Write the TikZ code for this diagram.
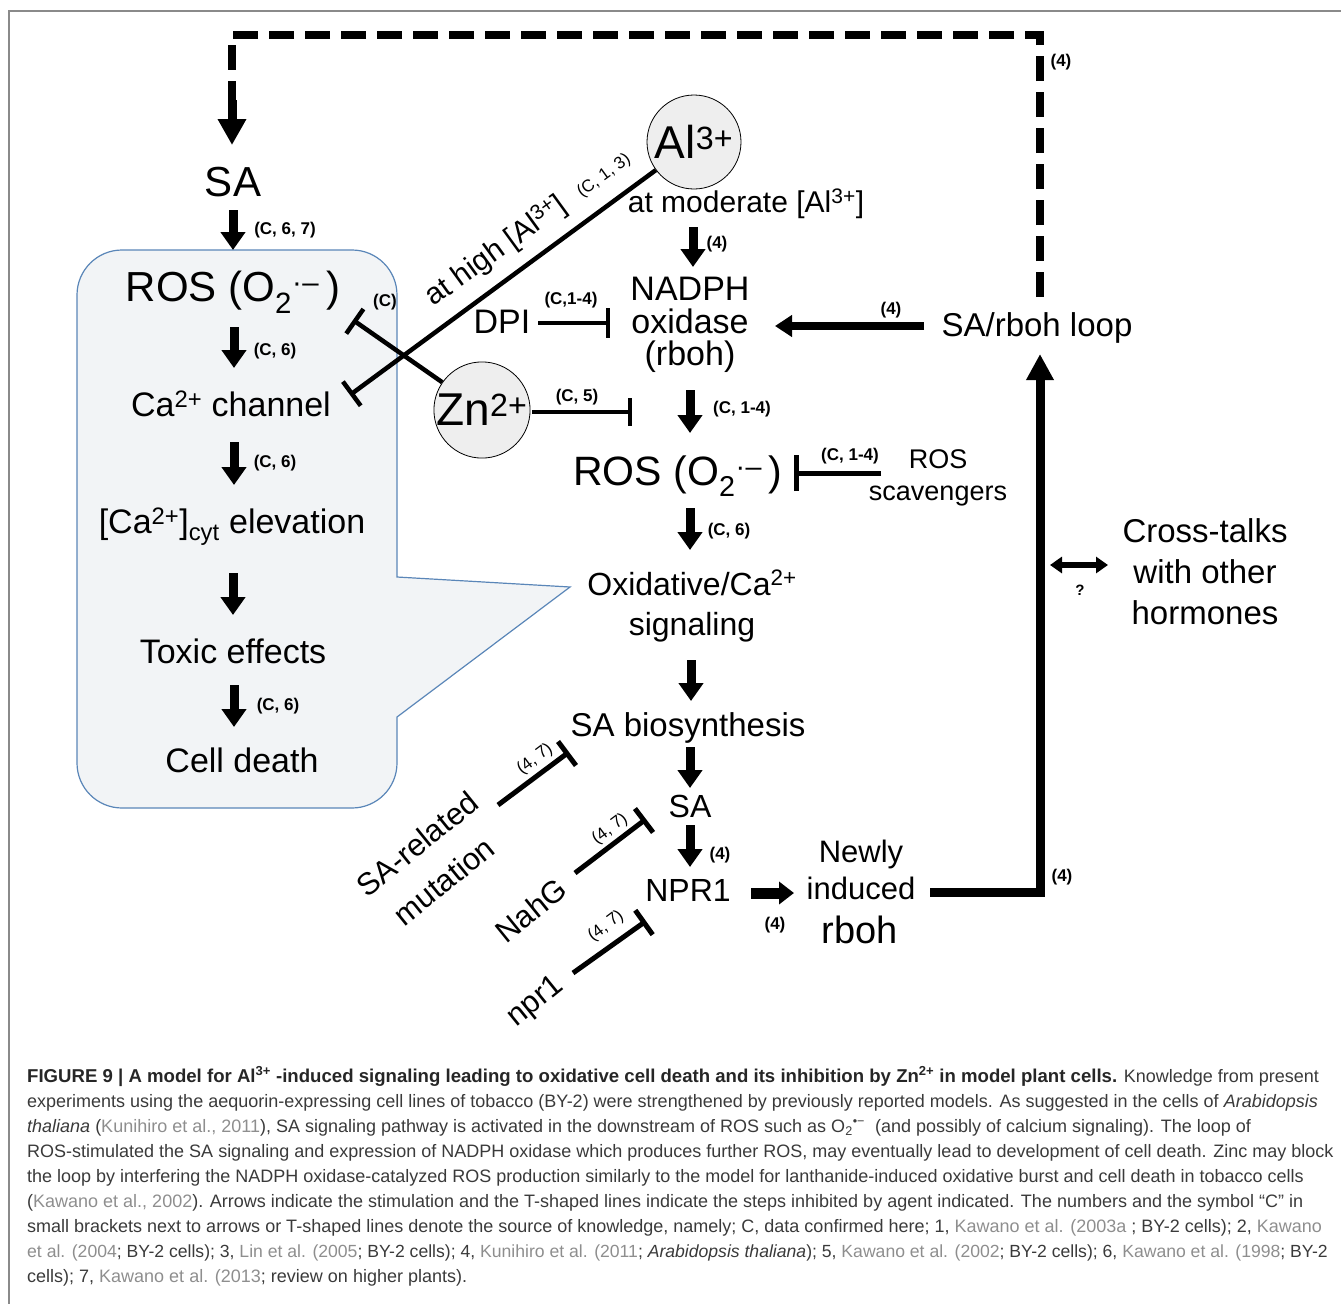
\documentclass[tikz,border=0pt]{standalone}
\usepackage{fontspec}
\setmainfont{Liberation Sans}
\usetikzlibrary{arrows.meta}
\definecolor{boxfill}{HTML}{F2F4F6}
\definecolor{boxline}{HTML}{5A86B8}
\definecolor{circfill}{HTML}{EEEEEE}
\definecolor{captxt}{HTML}{3A3A3A}
\definecolor{refgray}{HTML}{8E8E8E}
\definecolor{framegray}{HTML}{8A8A8A}
\newcommand\fsz[1]{\fontsize{#1}{#1}\selectfont}
\newcommand\rf[1]{\textcolor{refgray}{#1}}
\newcommand\supox{\textsuperscript{·\kern0.5pt–}}
\begin{document}
\begin{tikzpicture}[x=1pt,y=-1pt,
  txt/.style={inner sep=0pt},
  lab/.style={inner sep=0pt,font=\bfseries\fsz{17}},
  rlab/.style={inner sep=0pt,font=\fsz{17}},
  arr/.style={line width=9pt,-{Triangle[width=24pt,length=18pt]}},
  inh/.style={line width=4.5pt,-{Bar[width=30pt]}},
  ion/.style={circle,draw=black,line width=0.8pt,fill=circfill,minimum size=94pt,inner sep=0pt,font=\fsz{46}},
  capline/.style={anchor=base west,inner sep=0pt,font=\fsz{18},text=captxt}]
\useasboundingbox (0,0) rectangle (1341,1304);
% frame
\draw[framegray,line width=1.5pt] (1341,11) -- (9,11) -- (9,1304);

% callout box
\draw[boxline,fill=boxfill,line width=1.2pt]
  (237,250) [rounded corners=45pt] -- (397,250) -- (397,480) [sharp corners] -- (397,577) -- (570,587) -- (397,717) -- (397,760)
  [rounded corners=45pt] -- (397,808) -- (77,808) -- (77,250) -- cycle;

% dashed feedback loop
\coordinate (loopS) at (1040,297);
\coordinate (loopR) at (1040,35);
\coordinate (loopL) at (232,35);
\coordinate (loopD) at (232,100);
\coordinate (loopT) at (232,145);
\draw[line width=8pt,dash pattern=on 25pt off 11pt,miter limit=10] (loopS) -- (loopR) -- (loopL) -- (loopD);
\draw[line width=9pt,-{Triangle[width=27pt,length=26pt]}] (loopD) -- (loopT);
\node[lab] (l4a) at (1061,62) {(4)};

% left column
\node[txt,font=\fsz{42}] (saTop) at (233,182) {SA};
\node[txt,font=\fsz{42}] (rosA) at (233,292) {ROS (O\textsubscript{2}\supox\,)};
\node[txt,font=\fsz{34}] (cach) at (231,404) {Ca\textsuperscript{2+} channel};
\node[txt,font=\fsz{34}] (caelev) at (232,527) {[Ca\textsuperscript{2+}]\textsubscript{cyt} elevation};
\node[txt,font=\fsz{34}] (toxic) at (233,651) {Toxic effects};
\node[txt,font=\fsz{34}] (death) at (242,760) {Cell death};

\coordinate (a1s) at (233,210); \coordinate (a1e) at (233,250);
\coordinate (a2s) at (234,327); \coordinate (a2e) at (234,368);
\coordinate (a3s) at (234,442); \coordinate (a3e) at (234,485);
\coordinate (a4s) at (233,573); \coordinate (a4e) at (233,615);
\coordinate (a5s) at (234,685); \coordinate (a5e) at (234,727);
\draw[arr] (a1s) -- (a1e);
\draw[arr] (a2s) -- (a2e);
\draw[arr] (a3s) -- (a3e);
\draw[arr] (a4s) -- (a4e);
\draw[arr] (a5s) -- (a5e);
\node[lab] (lc67) at (285,230) {(C, 6, 7)};
\node[lab] (lc6a) at (275,351) {(C, 6)};
\node[lab] (lc6b) at (275,463) {(C, 6)};
\node[lab] (lc6c) at (278,706) {(C, 6)};

% ions
\node[ion] (al) at (694,142) {Al\textsuperscript{3+}};
\node[ion] (zn) at (482,410) {Zn\textsuperscript{2+}};

% crossing inhibitions
\coordinate (alBar) at (350,395);
\coordinate (znBar) at (353,320);
\draw[inh] (al) -- (alBar);
\draw[inh] (zn) -- (znBar);
\node[txt,font=\fsz{30},rotate=36] (high) at (496,251) {at high [Al\textsuperscript{3+}]};
\node[txt,font=\fsz{17},rotate=36] (c13) at (604,176) {(C, 1, 3)};
\node[lab] (lcc) at (385,302) {(C)};

% central column
\node[txt,font=\fsz{30}] (moder) at (746,204) {at moderate [Al\textsuperscript{3+}]};
\node[txt,align=center,font=\fontsize{34}{32.5}\selectfont] (nadph) at (690,325) {NADPH\\oxidase\\(rboh)};
\node[txt,font=\fsz{34}] (dpi) at (502,322) {DPI};
\node[txt,font=\fsz{33}] (loop) at (1037,328) {SA/rboh loop};
\node[txt,font=\fsz{41}] (rosB) at (678,476) {ROS (O\textsubscript{2}\supox\,)};
\node[txt,align=center,font=\fontsize{27}{32}\selectfont] (scav) at (938,478) {ROS\\scavengers};
\node[txt,align=center,font=\fontsize{32}{40}\selectfont] (oxsig) at (692,606) {Oxidative/Ca\textsuperscript{2+}\\signaling};
\node[txt,font=\fsz{33}] (sabio) at (688,728) {SA biosynthesis};
\node[txt,font=\fsz{32}] (saB) at (690,806) {SA};
\node[txt,font=\fsz{32}] (npr) at (688,890) {NPR1};
\node[txt,align=center,font=\fontsize{31}{37}\selectfont] (newly) at (861,870) {Newly\\induced};
\node[txt,font=\fsz{38}] (rbohN) at (860,930) {rboh};
\node[txt,align=center,font=\fontsize{33}{41}\selectfont] (cross) at (1205,572) {Cross-talks\\with other\\hormones};

\coordinate (b1s) at (693,227); \coordinate (b1e) at (693,267);
\coordinate (b2s) at (690,390); \coordinate (b2e) at (690,433);
\coordinate (b3s) at (690,508); \coordinate (b3e) at (690,550);
\coordinate (b4s) at (691,660); \coordinate (b4e) at (691,701);
\coordinate (b5s) at (690,747); \coordinate (b5e) at (690,788);
\coordinate (b6s) at (690,825); \coordinate (b6e) at (690,867);
\draw[arr] (b1s) -- (b1e);
\draw[arr] (b2s) -- (b2e);
\draw[arr] (b3s) -- (b3e);
\draw[arr] (b4s) -- (b4e);
\draw[arr] (b5s) -- (b5e);
\draw[arr] (b6s) -- (b6e);
\node[lab] (l4b) at (717,244) {(4)};
\node[lab] (lc14a) at (742,409) {(C, 1-4)};
\node[lab] (lc6d) at (729,531) {(C, 6)};
\node[lab] (l4c) at (720,855) {(4)};

% inhibitions centre
\coordinate (dpiS) at (538,323); \coordinate (dpiE) at (610,323);
\draw[line width=4pt,-{Bar[width=30pt]}] (dpiS) -- (dpiE);
\node[lab] (lc14b) at (571,300) {(C,1-4)};
\coordinate (znS) at (532,412); \coordinate (znE) at (632,412);
\draw[line width=4.5pt,-{Bar[width=28pt]}] (znS) -- (znE);
\node[lab] (lc5) at (577,397) {(C, 5)};
\coordinate (scS) at (881,473); \coordinate (scE) at (794,473);
\draw[line width=5pt,-{Bar[width=36pt]}] (scS) -- (scE);
\node[lab] (lc14c) at (850,456) {(C, 1-4)};

% SA/rboh loop arrow
\coordinate (lpS) at (924,326); \coordinate (lpE) at (775,326);
\draw[line width=8pt,-{Triangle[width=21pt,length=17pt]}] (lpS) -- (lpE);
\node[lab] (l4d) at (891,310) {(4)};

% NPR1 -> newly induced rboh
\coordinate (nS) at (751,893); \coordinate (nE) at (794,893);
\draw[line width=11pt,-{Triangle[width=22pt,length=15pt]}] (nS) -- (nE);
\node[lab] (l4e) at (775,925) {(4)};

% newly induced rboh -> SA/rboh loop
\coordinate (rS) at (930,892); \coordinate (rC) at (1040,892); \coordinate (rE) at (1040,354);
\draw[line width=9pt,miter limit=10,-{Triangle[width=26pt,length=26pt]}] (rS) -- (rC) -- (rE);
\node[lab] (l4f) at (1062,877) {(4)};

% cross-talk double arrow
\coordinate (xS) at (1050,565); \coordinate (xE) at (1108,565);
\draw[line width=6pt,{Triangle[width=16pt,length=12pt]}-{Triangle[width=16pt,length=12pt]}] (xS) -- (xE);
\node[lab,font=\bfseries\fsz{15}] (lq) at (1080,590) {?};

% lower inhibitions
\node[txt,rotate=39,font=\fsz{31}] (mut1) at (417,844) {SA-related};
\node[txt,rotate=39,font=\fsz{31}] (mut2) at (444,881) {mutation};
\node[txt,rotate=39,font=\fsz{31}] (nahg) at (531,910) {NahG};
\node[txt,rotate=39,font=\fsz{31}] (nprm) at (536,1002) {npr1};
\coordinate (m1S) at (498,805); \coordinate (m1E) at (569,752);
\coordinate (m2S) at (575,873); \coordinate (m2E) at (646,819);
\coordinate (m3S) at (573,973); \coordinate (m3E) at (646,921);
\draw[line width=5pt,-{Bar[width=30pt]}] (m1S) -- (m1E);
\draw[line width=5pt,-{Bar[width=30pt]}] (m2S) -- (m2E);
\draw[line width=5pt,-{Bar[width=30pt]}] (m3S) -- (m3E);
\node[rlab,rotate=37] (l47a) at (535,759) {(4, 7)};
\node[rlab,rotate=37] (l47b) at (610,829) {(4, 7)};
\node[rlab,rotate=37] (l47c) at (606,926) {(4, 7)};

% caption
\node[capline] (cap1) at (27,1082) {\textbf{\color{black!85}\fontsize{18.6}{18.6}\selectfont FIGURE 9 | A model for Al\textsuperscript{3+} -induced signaling leading to oxidative cell death and its inhibition by Zn\textsuperscript{2+} in model plant cells.} Knowledge from present};
\node[capline] (cap2) at (27,1107.1) {experiments using the aequorin-expressing cell lines of tobacco (BY-2) were strengthened by previously reported models. As suggested in the cells of \textit{Arabidopsis}};
\node[capline] (cap3) at (27,1132.2) {\textit{thaliana} (\rf{Kunihiro et al., 2011}), SA signaling pathway is activated in the downstream of ROS such as O\textsubscript{2}\textsuperscript{•−}\ \ (and possibly of calcium signaling). The loop of};
\node[capline] (cap4) at (27,1157.3) {ROS-stimulated the SA signaling and expression of NADPH oxidase which produces further ROS, may eventually lead to development of cell death. Zinc may block};
\node[capline] (cap5) at (27,1182.4) {the loop by interfering the NADPH oxidase-catalyzed ROS production similarly to the model for lanthanide-induced oxidative burst and cell death in tobacco cells};
\node[capline] (cap6) at (27,1207.5) {(\rf{Kawano et al., 2002}). Arrows indicate the stimulation and the T-shaped lines indicate the steps inhibited by agent indicated. The numbers and the symbol “C” in};
\node[capline] (cap7) at (27,1232.6) {small brackets next to arrows or T-shaped lines denote the source of knowledge, namely; C, data confirmed here; 1, \rf{Kawano et al. (2003a} ; BY-2 cells); 2, \rf{Kawano}};
\node[capline,font=\fsz{17.6}] (cap8) at (27,1257.7) {\rf{et al. (2004}; BY-2 cells); 3, \rf{Lin et al. (2005}; BY-2 cells); 4, \rf{Kunihiro et al. (2011}; \textit{Arabidopsis thaliana}); 5, \rf{Kawano et al. (2002}; BY-2 cells); 6, \rf{Kawano et al. (1998}; BY-2};
\node[capline] (cap9) at (27,1282.8) {cells); 7, \rf{Kawano et al. (2013}; review on higher plants).};
\end{tikzpicture}
\end{document}
